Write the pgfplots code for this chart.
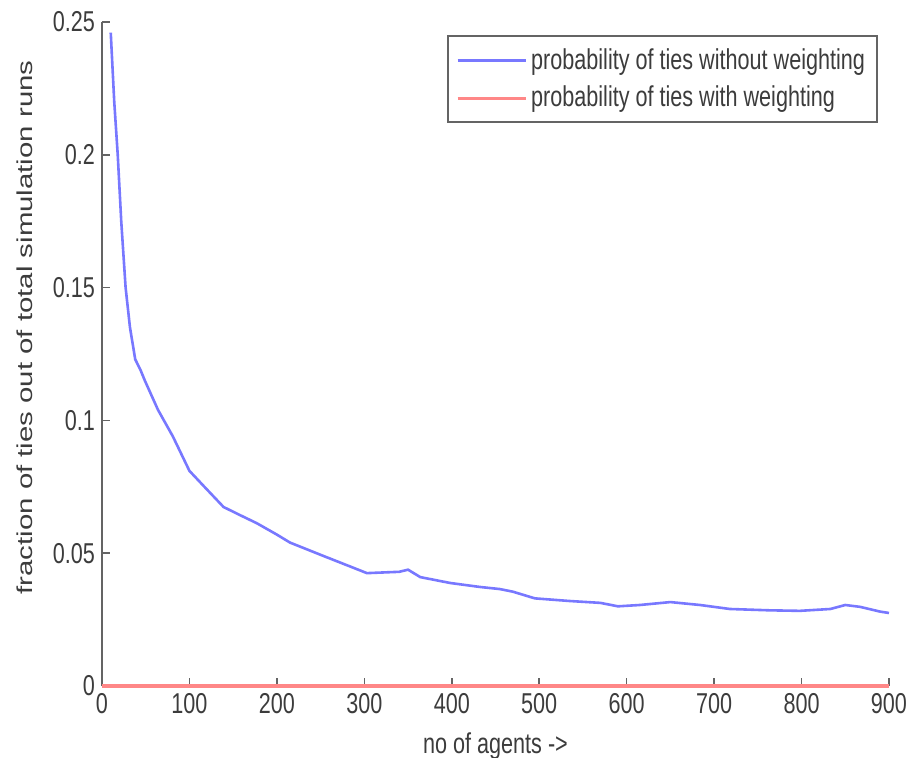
\documentclass[border=0pt]{standalone}
\usepackage{fontspec}
\setmainfont{Liberation Sans}
\usepackage{graphicx}
\usepackage{pgfplots}
\pgfplotsset{compat=1.18}
\definecolor{lblue}{RGB}{120,120,255}
\definecolor{lred}{RGB}{255,135,135}
\definecolor{axgray}{RGB}{100,100,100}
\definecolor{txtgray}{RGB}{60,60,60}
\newcommand\vs[1]{\scalebox{1}[1.33]{#1}}
\begin{document}
\begin{tikzpicture}
\begin{axis}[
  scale only axis,
  width=393.5pt, height=332pt,
  xmin=0, xmax=900, ymin=0, ymax=0.25,
  axis x line*=bottom, axis y line*=left,
  axis line style={axgray, line width=1pt, -},
  tick style={axgray, line width=0.8pt},
  tick align=inside,
  major tick length=4pt,
  xtick={0,100,...,900},
  xticklabels={\vs{0},\vs{100},\vs{200},\vs{300},\vs{400},\vs{500},\vs{600},\vs{700},\vs{800},\vs{900}},
  ytick={0,0.05,0.1,0.15,0.2,0.25},
  yticklabels={\vs{0},\vs{0.05},\vs{0.1},\vs{0.15},\vs{0.2},\vs{0.25}},
  scaled y ticks=false,
  /pgf/number format/assume math mode=true,
  tick label style={font=\fontsize{10.8}{13}\selectfont, text=txtgray},
  xlabel={\vs{no of agents ->}},
  ylabel={\scalebox{1.36}[1]{fraction of ties out of total simulation runs}},
  label style={font=\fontsize{10.8}{13}\selectfont, text=txtgray},
  xlabel style={at={(axis description cs:0.5,0)}, anchor=north, yshift=-20pt},
  ylabel style={at={(axis description cs:-0.098,0.54)}, anchor=center},
  clip=false,
  legend style={at={(axis description cs:0.986,0.980)}, anchor=north east,
    draw=axgray, line width=1pt, font=\fontsize{10.8}{13}\selectfont, text=txtgray,
    row sep=3pt, inner xsep=4pt, inner ysep=4pt},
  legend cell align=left,
  legend image code/.code={\draw[#1, line width=1.5pt] (0cm,0cm) -- (34pt,0cm);},
]
\addplot[lblue, line width=1.3pt] coordinates {
(10,0.246)(14,0.22)(18,0.2)(22,0.175)(27,0.15)(32,0.135)(38,0.123)(44,0.119)(49,0.115)
(64,0.104)(81,0.094)(100,0.081)(120,0.074)(139,0.0674)(160,0.064)(177,0.0613)
(200,0.057)(215,0.054)(253,0.049)(303,0.0425)(340,0.043)(350,0.0438)(364,0.041)
(398,0.0388)(432,0.0373)(455,0.0365)(470,0.0355)(495,0.033)(535,0.032)(570,0.0313)
(590,0.030)(615,0.0305)(650,0.0316)(684,0.0305)(718,0.029)(763,0.0285)(798,0.0283)
(833,0.029)(850,0.0305)(867,0.0298)(890,0.028)(900,0.0275)
};
\addlegendentry{\vs{probability of ties without weighting}}
\addplot[lred, line width=1.8pt] coordinates {(0,0)(900,0)};
\addlegendentry{\vs{probability of ties with weighting}}
\end{axis}
\pgfresetboundingbox
\path[use as bounding box] (-51pt,-35.5pt) rectangle (403.5pt,343pt);
\end{tikzpicture}
\end{document}
